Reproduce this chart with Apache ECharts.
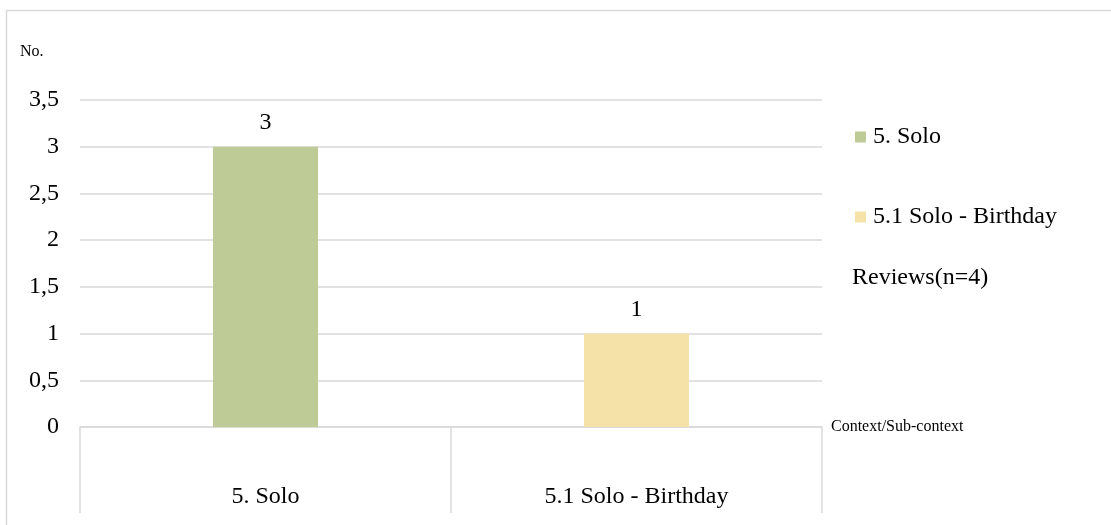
<!DOCTYPE html>
<html>
<head>
<meta charset="utf-8">
<script src="https://cdn.jsdelivr.net/npm/echarts@6/dist/echarts.min.js"></script>
<style>
  html, body { margin: 0; padding: 0; background: #ffffff; }
  #chart { width: 1111px; height: 525px; }
</style>
</head>
<body>
<div id="chart"></div>
<script>
// Review counts per context / sub-context
const categories = ['5. Solo', '5.1 Solo - Birthday'];
const seriesNames = ['5. Solo', '5.1 Solo - Birthday'];
const soloValues = [3, '-'];
const birthdayValues = ['-', 1];
const seriesColors = ['#bfcb97', '#f5e2a8'];
const yTicks = { min: 0, max: 3.5, interval: 0.5 };

const FONT = '"Liberation Serif", "Times New Roman", serif';
const GRID_COLOR = '#d9d9d9';

const chart = echarts.init(document.getElementById('chart'), null, { renderer: 'canvas' });

const barLabel = {
  show: true,
  position: 'top',
  distance: 12,
  color: '#000',
  fontFamily: FONT,
  fontSize: 24
};

chart.setOption({
  animation: false,
  backgroundColor: '#ffffff',
  textStyle: { fontFamily: FONT, color: '#000' },
  graphic: [
    {
      type: 'rect',
      shape: { x: 6.5, y: 10.5, width: 1200, height: 600 },
      style: { fill: 'none', stroke: GRID_COLOR, lineWidth: 1.5 },
      silent: true
    },
    {
      type: 'text',
      left: 20,
      top: 44,
      style: { text: 'No.', font: '16px ' + FONT, fill: '#000' }
    },
    {
      type: 'text',
      left: 852,
      top: 266,
      style: { text: 'Reviews(n=4)', font: '24px ' + FONT, fill: '#000' }
    }
  ],
  legend: {
    orient: 'vertical',
    left: 850,
    top: 120,
    itemWidth: 11,
    itemHeight: 11,
    itemGap: 56,
    icon: 'rect',
    textStyle: { fontFamily: FONT, fontSize: 24, color: '#000', padding: [0, 0, 0, 2] },
    data: seriesNames
  },
  grid: { left: 80, right: 289, top: 100, bottom: 98, containLabel: false },
  xAxis: {
    type: 'category',
    data: categories,
    boundaryGap: true,
    name: 'Context/Sub-context',
    nameLocation: 'end',
    nameGap: 9,
    nameTextStyle: { fontFamily: FONT, fontSize: 16, color: '#000', align: 'left', verticalAlign: 'middle' },
    axisLine: { show: true, lineStyle: { color: GRID_COLOR, width: 1.5 } },
    axisTick: { show: true, interval: 0, length: 86, lineStyle: { color: GRID_COLOR, width: 1.5 } },
    axisLabel: { interval: 0, margin: 58, fontFamily: FONT, fontSize: 24, color: '#000' },
    splitLine: { show: false }
  },
  yAxis: {
    type: 'value',
    min: yTicks.min,
    max: yTicks.max,
    interval: yTicks.interval,
    axisLine: { show: false },
    axisTick: { show: false },
    axisLabel: {
      margin: 21,
      fontFamily: FONT,
      fontSize: 24,
      color: '#000',
      formatter: v => String(v).replace('.', ',')
    },
    splitLine: { show: true, lineStyle: { color: GRID_COLOR, width: 1.5 } }
  },
  series: [
    {
      name: seriesNames[0],
      type: 'bar',
      data: soloValues,
      barWidth: 105,
      barGap: '-100%',
      itemStyle: { color: seriesColors[0] },
      label: barLabel
    },
    {
      name: seriesNames[1],
      type: 'bar',
      data: birthdayValues,
      barWidth: 105,
      barGap: '-100%',
      itemStyle: { color: seriesColors[1] },
      label: barLabel
    }
  ]
});
</script>
</body>
</html>
